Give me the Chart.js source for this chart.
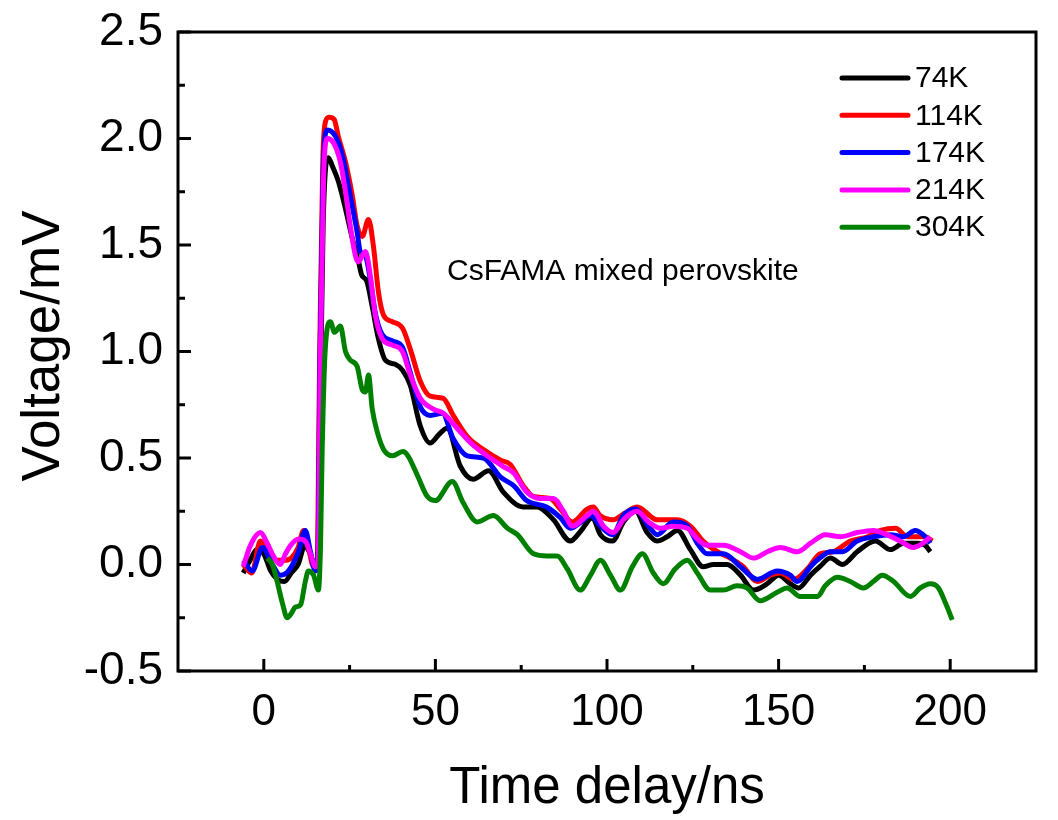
<!DOCTYPE html>
<html>
<head>
<meta charset="utf-8">
<script src="https://cdn.jsdelivr.net/npm/chart.js@4.4.1/dist/chart.umd.min.js"></script>
<style>
  html, body { margin: 0; padding: 0; background: #fff; }
  #wrap { width: 1058px; height: 820px; }
</style>
</head>
<body>
<div id="wrap"><canvas id="c" width="1058" height="820"></canvas></div>
<script>
// ---- data (time delay in ns, voltage in mV) ----
const seriesLabels = ['74K', '114K', '174K', '214K', '304K'];
const seriesColors = ['#000000', '#ff0000', '#0000ff', '#ff00ff', '#008000'];

const k74 = [
[-6,-0.04],[-4,0.02],[-2,0.07],[0,0.05],[2,-0.03],[4,-0.07],[6,-0.08],[8,-0.04],[10,0.0],[12,0.09],[13.5,0.05],[15,-0.01],[15.8,0.0],[16.5,0.8],[17.3,1.6],[18.8,1.91],[20,1.87],[21.7,1.80],[23.8,1.67],[25.8,1.53],[27.5,1.43],[28.5,1.36],[30,1.33],[31.6,1.21],[33.4,1.06],[35.4,0.96],[38.3,0.94],[40.5,0.91],[42.7,0.84],[45.6,0.65],[48.5,0.57],[51,0.61],[53.4,0.64],[57.3,0.46],[61,0.40],[65.5,0.44],[69.8,0.34],[75.6,0.27],[79.6,0.27],[84.4,0.21],[89.3,0.11],[92.5,0.16],[95.7,0.22],[98.1,0.14],[101.6,0.11],[104.8,0.20],[108.3,0.25],[111.7,0.15],[114.6,0.11],[117.5,0.13],[120.5,0.16],[124.3,0.07],[128,-0.01],[131,0.0],[135,0.0],[138.9,-0.05],[142.7,-0.12],[146.7,-0.09],[150,-0.05],[153.4,-0.09],[155.8,-0.11],[159.3,-0.05],[162,-0.01],[165.1,0.03],[168.6,0.0],[172.9,0.06],[178.2,0.11],[182.6,0.07],[186.4,0.10],[190.4,0.10],[192.7,0.09],[194.2,0.06]
];
const k114 = [
[-6,0.0],[-3.5,-0.04],[-1,0.11],[1.5,0.06],[4,0.02],[6,0.02],[8,0.03],[10,0.08],[11.6,0.16],[13,0.08],[14.5,-0.01],[15.5,0.0],[16.3,1.0],[17.2,1.9],[18,2.08],[19,2.10],[20.5,2.09],[21.7,2.01],[23.8,1.89],[25.8,1.73],[27.2,1.59],[28.7,1.54],[30.5,1.62],[31.9,1.50],[33.4,1.28],[34.9,1.17],[37.5,1.14],[40.4,1.11],[42.7,1.01],[45.6,0.86],[48.5,0.79],[52.3,0.78],[55.2,0.70],[59.3,0.60],[64,0.54],[69,0.49],[71.8,0.47],[75.6,0.37],[78.5,0.32],[83.5,0.31],[86.4,0.26],[89.9,0.20],[94.2,0.26],[96,0.27],[98,0.23],[101.8,0.21],[105,0.24],[108.8,0.27],[114.6,0.21],[120.5,0.21],[124.3,0.18],[128,0.11],[132.2,0.06],[135.9,0.03],[139.7,-0.01],[143.8,-0.08],[147.6,-0.05],[150.5,-0.04],[154.4,-0.07],[158.4,-0.02],[162.1,0.05],[165.9,0.06],[170.9,0.11],[175.9,0.13],[179.7,0.16],[184.1,0.17],[187.5,0.13],[190.4,0.13],[192.7,0.13],[194.8,0.11]
];
const k174 = [
[-6,0.02],[-3.3,-0.03],[-0.4,0.08],[2.5,0.0],[4.8,-0.05],[7.2,-0.03],[10.1,0.06],[12.1,0.16],[13.6,0.06],[15,-0.03],[15.7,0.0],[16.4,1.0],[17.3,1.85],[18.5,2.04],[20.9,2.01],[22.9,1.92],[25.2,1.73],[27.2,1.56],[28.1,1.47],[29.6,1.45],[31,1.34],[32.5,1.18],[34.5,1.08],[37.5,1.05],[40.4,1.02],[42.7,0.90],[45.6,0.74],[48.5,0.70],[52,0.71],[55.2,0.59],[59.3,0.51],[64,0.50],[69,0.41],[72.8,0.37],[76.6,0.30],[82.4,0.27],[86.4,0.22],[89.3,0.17],[92.5,0.20],[95.2,0.23],[98.1,0.18],[101.6,0.14],[104.8,0.23],[108.3,0.26],[112.1,0.18],[114.6,0.14],[119.3,0.20],[123.4,0.18],[126.3,0.10],[129.2,0.05],[133.9,0.05],[138.9,-0.01],[143.8,-0.07],[149.6,-0.03],[153.4,-0.05],[155.4,-0.08],[159.3,-0.01],[162,0.03],[165.1,0.06],[168.6,0.06],[172.9,0.11],[177.6,0.13],[182.6,0.14],[186.4,0.13],[189.8,0.16],[192.1,0.14],[194.2,0.10]
];
const k214 = [
[-6,-0.01],[-3.9,0.09],[-1,0.15],[1,0.10],[2.8,0.04],[4.8,0.0],[6.3,0.05],[7.8,0.09],[10.1,0.12],[12.1,0.11],[13.6,0.05],[15,-0.01],[15.8,0.0],[16.5,1.0],[17.4,1.8],[18.5,2.0],[20.3,1.98],[22.3,1.89],[23.8,1.75],[25.2,1.59],[26.7,1.45],[27.5,1.42],[29.6,1.47],[31,1.36],[32.5,1.17],[34.5,1.06],[37.5,1.03],[40.4,1.0],[42.7,0.89],[45.6,0.78],[49.4,0.73],[52.3,0.71],[56.3,0.64],[61,0.56],[66,0.50],[69.8,0.46],[72.8,0.43],[76.6,0.34],[80.5,0.31],[84.4,0.31],[87.3,0.25],[89.9,0.18],[94.2,0.23],[96,0.25],[99,0.18],[101.8,0.15],[104.8,0.21],[108.8,0.25],[112.1,0.20],[115.6,0.17],[119.3,0.18],[123.4,0.17],[126.3,0.12],[129.2,0.09],[133.9,0.09],[138.9,0.06],[142.7,0.03],[146.7,0.06],[150.5,0.08],[155.4,0.06],[159.3,0.10],[163.6,0.14],[168,0.13],[172.9,0.15],[177.6,0.16],[181.5,0.14],[185.4,0.11],[189.2,0.08],[192.1,0.10],[194.2,0.13]
];
const k304 = [
[1,0.03],[2.5,0.0],[3.9,-0.08],[5.4,-0.18],[6.8,-0.25],[8,-0.23],[9.2,-0.20],[10.7,-0.19],[12.1,-0.08],[13,-0.03],[14.5,-0.05],[15.9,-0.12],[16.5,0.07],[17,0.53],[17.9,1.01],[19.4,1.14],[20.6,1.09],[22.3,1.12],[23.8,1.0],[25.2,0.96],[27.2,0.93],[28.7,0.82],[29.6,0.81],[30.5,0.89],[31.6,0.73],[33.1,0.62],[34.9,0.54],[37.5,0.51],[40.5,0.53],[42,0.51],[44.7,0.42],[47.6,0.32],[50,0.30],[54.9,0.39],[58.1,0.29],[62.2,0.20],[66.9,0.23],[71,0.17],[73.9,0.14],[78.6,0.05],[82.6,0.04],[85.5,0.04],[88.4,-0.02],[92.2,-0.12],[95.2,-0.05],[98.1,0.02],[101,-0.05],[103.9,-0.12],[107.4,-0.01],[110.3,0.05],[113.5,-0.04],[116.4,-0.09],[119.9,-0.02],[123.4,0.02],[126.3,-0.04],[130.1,-0.12],[133.9,-0.12],[137.9,-0.10],[140.8,-0.11],[144.6,-0.17],[149.6,-0.13],[152.5,-0.11],[156.3,-0.15],[161.3,-0.15],[163.6,-0.10],[167.1,-0.06],[170.9,-0.08],[174.7,-0.11],[177.6,-0.08],[180.2,-0.05],[183.5,-0.08],[188.4,-0.15],[191.3,-0.11],[194.2,-0.09],[196.6,-0.11],[198.6,-0.18],[200.6,-0.26]
];

const xTicks = [0, 50, 100, 150, 200];
const xMinorTicks = [25, 75, 125, 175];
const yTicks = [-0.5, 0.0, 0.5, 1.0, 1.5, 2.0, 2.5];
const yMinorTicks = [-0.25, 0.25, 0.75, 1.25, 1.75, 2.25];
const xTitle = 'Time delay/ns';
const yTitle = 'Voltage/mV';
const noteText = 'CsFAMA mixed perovskite';

const allSeries = [k74, k114, k174, k214, k304];
const FONT = "'Liberation Sans', Arial, sans-serif";

const datasets = allSeries.map((s, i) => ({
  label: seriesLabels[i],
  data: s.map(p => ({ x: p[0], y: p[1] })),
  borderColor: seriesColors[i],
  backgroundColor: seriesColors[i],
  borderWidth: 5,
  pointRadius: 0,
  showLine: true,
  fill: false,
  cubicInterpolationMode: 'monotone',
  order: 5 - i
}));

const decor = {
  id: 'decor',
  afterDatasetsDraw(chart) {
    const ctx = chart.ctx;
    const a = chart.chartArea;
    const xs = chart.scales.x, ys = chart.scales.y;
    ctx.save();
    ctx.strokeStyle = '#000';
    ctx.lineWidth = 3;
    ctx.lineCap = 'butt';
    // frame
    ctx.strokeRect(a.left, a.top, a.right - a.left, a.bottom - a.top);
    // inward ticks
    const tick = (x1, y1, x2, y2) => { ctx.beginPath(); ctx.moveTo(x1, y1); ctx.lineTo(x2, y2); ctx.stroke(); };
    xTicks.forEach(v => { const p = xs.getPixelForValue(v); tick(p, a.bottom, p, a.bottom - 12); });
    xMinorTicks.forEach(v => { const p = xs.getPixelForValue(v); tick(p, a.bottom, p, a.bottom - 6); });
    yTicks.forEach(v => { const p = ys.getPixelForValue(v); tick(a.left, p, a.left + 13, p); });
    yMinorTicks.forEach(v => { const p = ys.getPixelForValue(v); tick(a.left, p, a.left + 7, p); });

    // legend
    ctx.lineWidth = 5;
    ctx.lineCap = 'round';
    ctx.font = '30px ' + FONT;
    ctx.textBaseline = 'middle';
    ctx.textAlign = 'left';
    seriesLabels.forEach((lab, i) => {
      const y = 78 + i * 37.3;
      ctx.strokeStyle = seriesColors[i];
      tick(842, y, 908, y);
      ctx.fillStyle = '#000';
      ctx.fillText(lab, 915, y + 1);
    });

    // annotation
    ctx.font = '30px ' + FONT;
    ctx.fillText(noteText, 447, 272);

    // axis titles
    ctx.textAlign = 'center';
    ctx.font = '51px ' + FONT;
    ctx.fillText(xTitle, 607, 789);
    ctx.font = '53px ' + FONT;
    ctx.translate(44, 346);
    ctx.rotate(-Math.PI / 2);
    ctx.fillText(yTitle, 0, 0);
    ctx.restore();
  }
};

new Chart(document.getElementById('c'), {
  type: 'scatter',
  data: { datasets },
  plugins: [decor],
  options: {
    responsive: false,
    animation: false,
    devicePixelRatio: 1,
    layout: { padding: { top: 32, right: 22, left: 0, bottom: 0 } },
    plugins: { legend: { display: false }, tooltip: { enabled: false } },
    scales: {
      x: {
        type: 'linear', min: -25, max: 225,
        afterBuildTicks: s => { s.ticks = xTicks.map(v => ({ value: v })); },
        afterFit: s => { s.height = 149; s.paddingLeft = 0; s.paddingRight = 0; },
        grid: { display: false, drawTicks: false },
        border: { display: false },
        ticks: { color: '#000', font: { family: FONT, size: 44 }, padding: 15, maxRotation: 0, callback: v => String(v) }
      },
      y: {
        type: 'linear', min: -0.5, max: 2.5,
        afterBuildTicks: s => { s.ticks = yTicks.map(v => ({ value: v })); },
        afterFit: s => { s.width = 178; s.paddingTop = 0; s.paddingBottom = 0; },
        grid: { display: false, drawTicks: false },
        border: { display: false },
        ticks: { color: '#000', font: { family: FONT, size: 46 }, padding: 15, callback: v => Number(v).toFixed(1) }
      }
    }
  }
});
</script>
</body>
</html>
